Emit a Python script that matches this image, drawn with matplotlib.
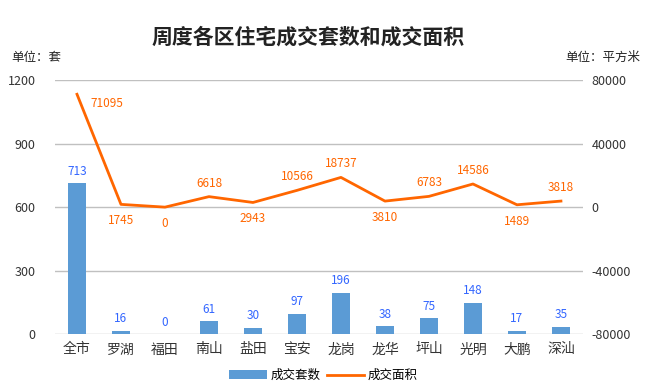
import matplotlib.pyplot as plt
import numpy as np

plt.rcParams['font.family'] = ['Noto Sans CJK SC', 'DejaVu Sans']
plt.rcParams['axes.unicode_minus'] = False

districts = ['全市', '罗湖', '福田', '南山', '盐田', '宝安', '龙岗', '龙华', '坪山', '光明', '大鹏', '深汕']
units = [713, 16, 0, 61, 30, 97, 196, 38, 75, 148, 17, 35]
area = [71095, 1745, 0, 6618, 2943, 10566, 18737, 3810, 6783, 14586, 1489, 3818]
# label placement for line values: 1 above, -1 below
area_lbl_side = [0, -1, -1, 1, -1, 1, 1, -1, 1, 1, -1, 1]

fig = plt.figure(figsize=(6.47, 3.89), dpi=100)
ax = fig.add_axes([0.085, 0.141, 0.816, 0.653])
ax2 = ax.twinx()

x = np.arange(len(districts))
bars = ax.bar(x, units, width=0.4, color='#5b9bd5', label='成交套数', zorder=3)
ax.set_ylim(0, 1200)
ax.set_yticks([0, 300, 600, 900, 1200])
ax.set_xlim(-0.5, len(districts) - 0.5)
ax.set_xticks(x)
ax.set_xticklabels(districts, fontsize=10)
ax.grid(axis='y', color='#c0c0c0', lw=1, zorder=0)
ax.set_axisbelow(True)

line, = ax2.plot(x, area, color='#ff6600', lw=2, label='成交面积', zorder=4)
ax2.set_ylim(-80000, 80000)
ax2.set_yticks([-80000, -40000, 0, 40000, 80000])

for a in (ax, ax2):
    for s in a.spines.values():
        s.set_visible(False)
    a.tick_params(length=0, labelsize=9, colors='#333333')
ax.tick_params(axis='x', pad=6, labelsize=10)
ax.tick_params(axis='y', pad=14)
ax2.tick_params(axis='y', pad=6)

for xi, v in zip(x, units):
    ax.annotate(str(v), (xi, v), xytext=(0, 4), textcoords='offset points',
                ha='center', va='bottom', fontsize=8.5, color='#3366ff')

for xi, v, side in zip(x, area, area_lbl_side):
    if side == 0:
        ax2.annotate(str(v), (xi, v), xytext=(10, -2), textcoords='offset points',
                     ha='left', va='top', fontsize=8.5, color='#ff6600')
    elif side > 0:
        ax2.annotate(str(v), (xi, v), xytext=(0, 5), textcoords='offset points',
                     ha='center', va='bottom', fontsize=8.5, color='#ff6600')
    else:
        ax2.annotate(str(v), (xi, v), xytext=(0, -7), textcoords='offset points',
                     ha='center', va='top', fontsize=8.5, color='#ff6600')

fig.text(0.476, 0.905, '周度各区住宅成交套数和成交面积', ha='center', va='center',
         fontsize=15, fontweight='bold', color='#222222')
fig.text(0.018, 0.853, '单位：套', ha='left', va='center', fontsize=9, color='#222222')
fig.text(0.99, 0.853, '单位：平方米', ha='right', va='center', fontsize=9, color='#222222')

fig.legend([bars, line], ['成交套数', '成交面积'], loc='center', bbox_to_anchor=(0.5, 0.035),
           ncol=2, frameon=False, fontsize=9, handlelength=3, columnspacing=0.5, handletextpad=0.3)

fig.savefig('out.png', dpi=100)
